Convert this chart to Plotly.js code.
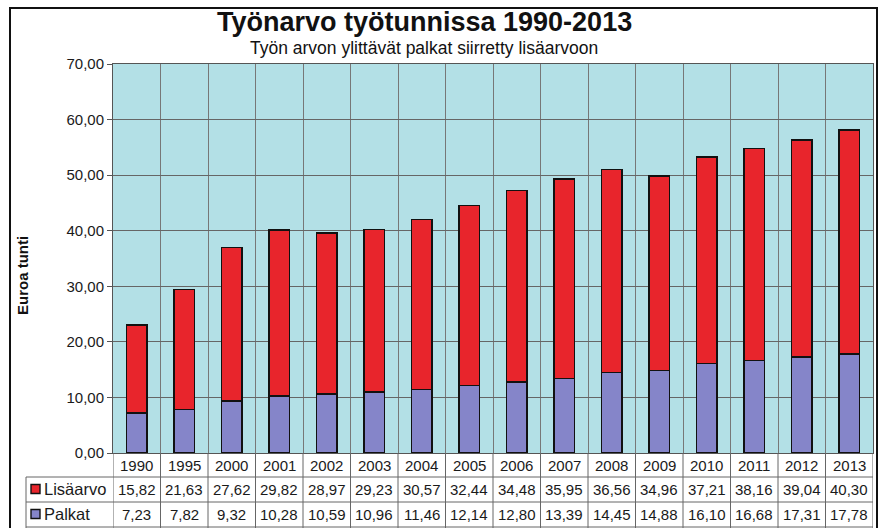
<!DOCTYPE html>
<html>
<head>
<meta charset="utf-8">
<script src="https://cdn.plot.ly/plotly-3.0.1.min.js"></script>
<style>html,body{margin:0;padding:0;background:#fff;}#chart{width:890px;height:528px;}</style>
</head>
<body>
<div id="chart"></div>
<script>
var years = ['1990','1995','2000','2001','2002','2003','2004','2005','2006','2007','2008','2009','2010','2011','2012','2013'];
var lisaarvo = [15.82,21.63,27.62,29.82,28.97,29.23,30.57,32.44,34.48,35.95,36.56,34.96,37.21,38.16,39.04,40.30];
var palkat = [7.23,7.82,9.32,10.28,10.59,10.96,11.46,12.14,12.80,13.39,14.45,14.88,16.10,16.68,17.31,17.78];
var seriesNames = ['Lisäarvo','Palkat'];
var titleText = 'Työnarvo työtunnissa 1990-2013';
var subtitleText = 'Työn arvon ylittävät palkat siirretty lisäarvoon';

var RED = '#e8252c', PURPLE = '#8585c9';
var W = 890, H = 528, L = 113, R = 17, T = 64, B = 75;
var pw = W - L - R, ph = H - T - B;
function px(x){ return (x - L) / pw; }
function py(y){ return (H - B - y) / ph; }
function fmt(v){ return v.toFixed(2).replace('.', ','); }

var traces = [
  {type:'bar', name:seriesNames[1], x:years, y:palkat, marker:{color:PURPLE, line:{color:'#111', width:1.5}}, width:0.43, hoverinfo:'x+y'},
  {type:'bar', name:seriesNames[0], x:years, y:lisaarvo, marker:{color:RED, line:{color:'#111', width:1.5}}, width:0.43, hoverinfo:'x+y'}
];

var FAM = 'Liberation Sans, Arial, sans-serif';
var shapes = [];
var annotations = [];
var font = {family:FAM, size:15, color:'#1a1a1a'};
var labFont = {family:FAM, size:16.5, color:'#1a1a1a'};
// outer border
shapes.push({type:'rect', xref:'paper', yref:'paper', x0:px(10), x1:px(877), y0:py(540), y1:py(8), line:{color:'#111', width:2}, fillcolor:'rgba(0,0,0,0)', layer:'above'});
// table vertical lines
for (var i = 0; i <= years.length; i++) {
  shapes.push({type:'line', xref:'x', yref:'paper', x0:i-0.5, x1:i-0.5, y0:py(453), y1:py(528), line:{color:'#666', width:1}});
}
shapes.push({type:'line', xref:'paper', yref:'paper', x0:px(26), x1:px(26), y0:py(477), y1:py(528), line:{color:'#666', width:1}});
[477, 502, 527].forEach(function(yy){
  shapes.push({type:'line', xref:'paper', yref:'paper', x0:px(26), x1:1, y0:py(yy), y1:py(yy), line:{color:'#666', width:1}});
});
// legend keys
[[RED, 489], [PURPLE, 514]].forEach(function(k){
  shapes.push({type:'rect', xref:'paper', yref:'paper', x0:px(31), x1:px(40), y0:py(k[1]+4.5), y1:py(k[1]-4.5), fillcolor:k[0], line:{color:'#111', width:1.4}});
});
annotations.push({xref:'paper', yref:'paper', x:px(42), y:py(489), xanchor:'left', yanchor:'middle', text:seriesNames[0], showarrow:false, font:labFont});
annotations.push({xref:'paper', yref:'paper', x:px(42), y:py(514), xanchor:'left', yanchor:'middle', text:seriesNames[1], showarrow:false, font:labFont});
years.forEach(function(yr, j){
  annotations.push({xref:'x', yref:'paper', x:j, y:py(465), text:yr, showarrow:false, font:font, yanchor:'middle'});
  annotations.push({xref:'x', yref:'paper', x:j, y:py(489), text:fmt(lisaarvo[j]), showarrow:false, font:font, yanchor:'middle'});
  annotations.push({xref:'x', yref:'paper', x:j, y:py(514), text:fmt(palkat[j]), showarrow:false, font:font, yanchor:'middle'});
});
// titles
annotations.push({xref:'paper', yref:'paper', x:px(424), y:py(22), text:'<b>'+titleText+'</b>', showarrow:false, yanchor:'middle', font:{family:FAM, size:27, color:'#111'}});
annotations.push({xref:'paper', yref:'paper', x:px(424), y:py(48), text:subtitleText, showarrow:false, yanchor:'middle', font:{family:FAM, size:17.5, color:'#111'}});
annotations.push({xref:'paper', yref:'paper', x:px(22), y:py(276), text:'<b>Euroa tunti</b>', textangle:-90, showarrow:false, xanchor:'center', yanchor:'middle', font:{family:FAM, size:15, color:'#111'}});

var layout = {
  width:W, height:H,
  margin:{l:L, r:R, t:T, b:B, pad:0},
  paper_bgcolor:'#ffffff', plot_bgcolor:'#b3e0e6',
  barmode:'stack', showlegend:false,
  separators:',.',
  font:font,
  xaxis:{type:'category', range:[-0.5, years.length-0.5], showticklabels:false, ticks:'', tickson:'boundaries', showgrid:true, gridcolor:'#777', gridwidth:1, showline:true, mirror:true, linecolor:'#555', linewidth:1, zeroline:false, fixedrange:true},
  yaxis:{range:[0,70], dtick:10, tickformat:'.2f', ticks:'outside', ticklen:5, tickcolor:'#555', showgrid:true, gridcolor:'#666', gridwidth:1, showline:true, mirror:true, linecolor:'#555', zeroline:false, tickfont:font, fixedrange:true},
  shapes:shapes, annotations:annotations
};
Plotly.newPlot('chart', traces, layout, {displayModeBar:false, staticPlot:true});
</script>
</body>
</html>
